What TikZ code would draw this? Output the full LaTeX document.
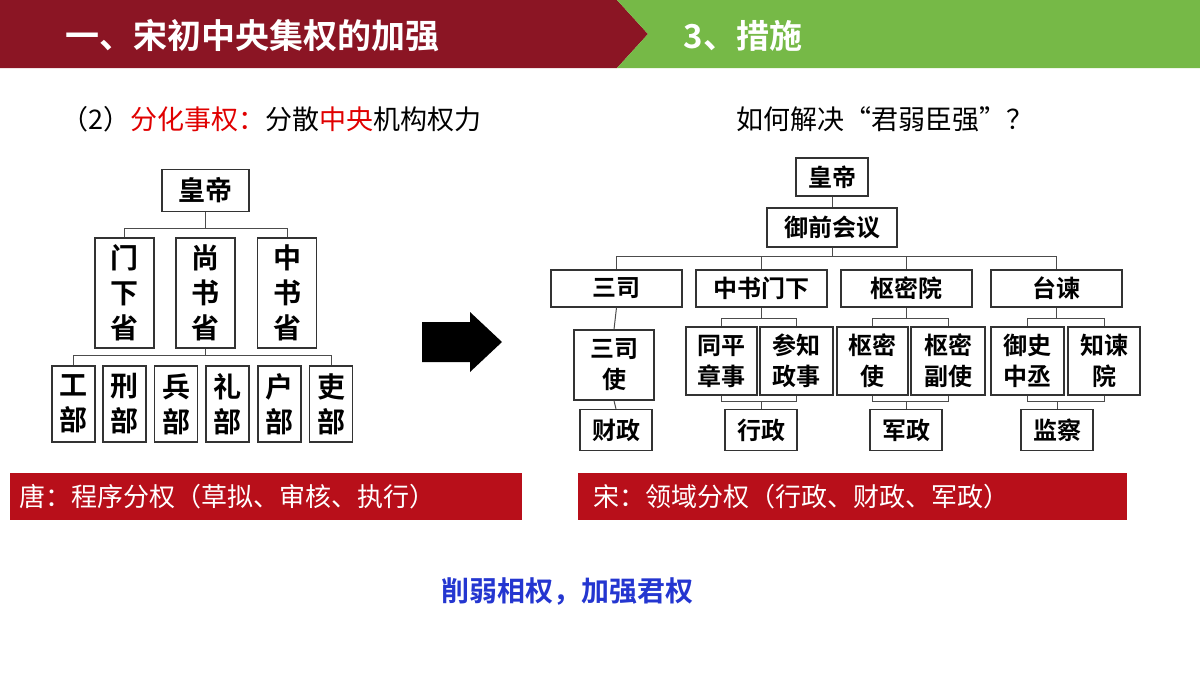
\documentclass[tikz,border=0pt]{standalone}
\usepackage{fontspec}
\setmainfont{Noto Sans CJK SC}[BoldFont={Noto Sans CJK SC Bold}]
\begin{document}
\begin{tikzpicture}[x=1pt,y=-1pt,
 bx/.style={draw=black!80,line width=1.2pt,fill=white,inner sep=0pt,font=\fontsize{24}{28}\selectfont\bfseries,align=center},
 ln/.style={draw=black!70,line width=1pt}]
\useasboundingbox (0,0) rectangle (1200,675);
\definecolor{hred}{HTML}{8B1524}\definecolor{hgreen}{HTML}{76B947}
\definecolor{bred}{HTML}{B80F1A}\definecolor{tred}{HTML}{E00000}\definecolor{tblue}{HTML}{2436D0}
\fill[hred] (0,0)--(617,0)--(648,34)--(617,68)--(0,68)--cycle;
\fill[hgreen] (617,0)--(1200,0)--(1200,68)--(617,68)--(648,34)--cycle;
\node[anchor=west,text=white,font=\fontsize{34}{38}\selectfont\bfseries] (h1) at (62,36) {一、宋初中央集权的加强};
\node[anchor=west,text=white,font=\fontsize{33}{38}\selectfont\bfseries] (h2) at (680,36) {3、措施};
\node[anchor=west,font=\fontsize{27}{30}\selectfont] (t1) at (58,119) {（2）\textcolor{tred}{分化事权：}分散\textcolor{tred}{中央}机构权力};
\node[anchor=west,font=\fontsize{27}{30}\selectfont] (t2) at (733,119) {如何解决“君弱臣强”？};
% left tree
\node[bx,minimum width=87pt,minimum height=42pt,font=\fontsize{27}{30}\selectfont\bfseries] (L0) at (205.5,190.5) {皇帝};
\foreach \n/\x/\t in {La/124.5/门\\下\\省,Lb/205.5/尚\\书\\省,Lc/287/中\\书\\省}
  \node[bx,minimum width=59pt,minimum height=110pt,font=\fontsize{28}{35}\selectfont\bfseries] (\n) at (\x,293) {\t};
\foreach \n/\x/\t in {B1/73.5/工\\部,B2/124.5/刑\\部,B3/176/兵\\部,B4/227.5/礼\\部,B5/279.5/户\\部,B6/331/吏\\部}
  \node[bx,minimum width=43pt,minimum height=76pt,font=\fontsize{28}{35}\selectfont\bfseries] (\n) at (\x,404) {\t};
\draw[ln] (L0.south) -- ++(0,16) coordinate (lb1);
\draw[ln] (La.north) -- (La.north|-lb1) -- (Lc.north|-lb1) -- (Lc.north);
\draw[ln] (Lb.south) -- ++(0,7) coordinate (lb2);
\draw[ln] (B1.north) -- (B1.north|-lb2) -- (B6.north|-lb2) -- (B6.north);
% arrow
\fill[black] (422,322)--(470,322)--(470,312)--(502,342)--(470,372)--(470,362)--(422,362)--cycle;
% right tree
\node[bx,minimum width=72pt,minimum height=38pt] (R0) at (832,177) {皇帝};
\node[bx,minimum width=130pt,minimum height=39pt] (R1) at (832,227.5) {御前会议};
\foreach \n/\x/\t in {Ra/616.5/三司,Rb/761.5/中书门下,Rc/906.5/枢密院,Rd/1056.5/台谏}
  \node[bx,minimum width=131pt,minimum height=37pt] (\n) at (\x,288.5) {\t};
\foreach \n/\x/\w/\t in {Sb1/721.5/71/同平\\章事,Sb2/796.5/73/参知\\政事,Sc1/872.5/71/枢密\\使,Sc2/948/74/枢密\\副使,Sd1/1027.5/73/御史\\中丞,Sd2/1104/72/知谏\\院}
  \node[bx,minimum width=\w pt,minimum height=68pt,font=\fontsize{24}{31}\selectfont\bfseries] (\n) at (\x,361) {\t};
\node[bx,minimum width=80pt,minimum height=70pt,font=\fontsize{24}{31}\selectfont\bfseries] (Sa) at (614,365) {三司\\使};
\foreach \n/\x/\t in {Fa/616/财政,Fb/761/行政,Fc/906/军政,Fd/1057/监察}
  \node[bx,minimum width=72pt,minimum height=41pt] (\n) at (\x,430) {\t};
\draw[ln] (R0.south) -- (R1.north);
\draw[ln] (R1.south) -- ++(0,9) coordinate (rb);
\draw[ln] (Ra.north) -- (Ra.north|-rb) -- (Rd.north|-rb) -- (Rd.north);
\draw[ln] (Rb.north) -- (Rb.north|-rb); \draw[ln] (Rc.north) -- (Rc.north|-rb);
\draw[ln] (Ra.south) -- (Sa.north); \draw[ln] (Sa.south) -- (Fa.north);
\foreach \p/\a/\b/\f in {Rb/Sb1/Sb2/Fb,Rc/Sc1/Sc2/Fc,Rd/Sd1/Sd2/Fd}{
  \draw[ln] (\p.south) -- ++(0,11) coordinate (u);
  \draw[ln] (\a.north) -- (\a.north|-u) -- (\b.north|-u) -- (\b.north);
  \draw[ln] (\f.north) -- ++(0,-7) coordinate (d);
  \draw[ln] (\a.south) -- (\a.south|-d) -- (\b.south|-d) -- (\b.south);
}
% banners
\node[fill=bred,minimum width=512pt,minimum height=47pt,inner sep=0pt] (P1) at (266,496.5) {};
\node[anchor=west,text=white,font=\fontsize{26}{29}\selectfont] (P1t) at (16,496.5) {唐：程序分权（草拟、审核、执行）};
\node[fill=bred,minimum width=549pt,minimum height=47pt,inner sep=0pt] (P2) at (852.5,496.5) {};
\node[anchor=west,text=white,font=\fontsize{26}{29}\selectfont] (P2t) at (590,496.5) {宋：领域分权（行政、财政、军政）};
\node[text=tblue,font=\fontsize{28}{30}\selectfont\bfseries] (C) at (567,592) {削弱相权，加强君权};
\end{tikzpicture}
\end{document}
